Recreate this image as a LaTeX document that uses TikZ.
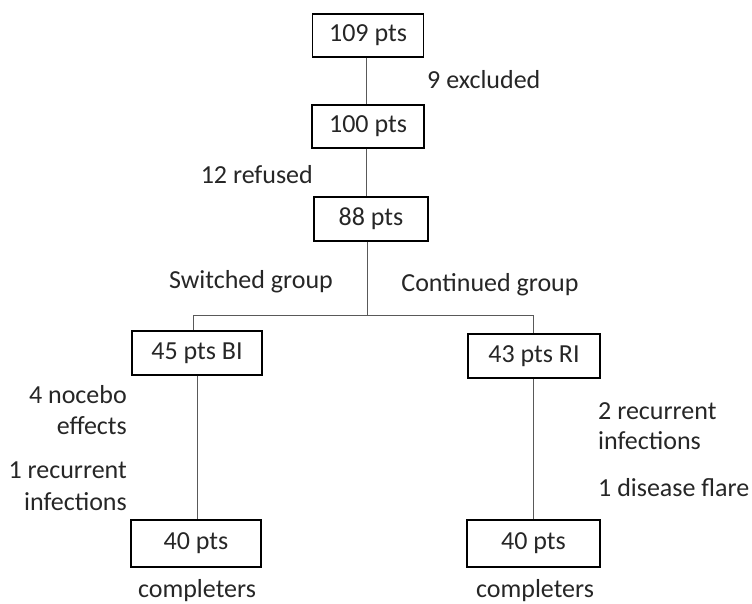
\documentclass[tikz,border=0pt]{standalone}
\usepackage{fontspec}
\setmainfont{Carlito}
\begin{document}
\begin{tikzpicture}[x=1pt,y=-1pt,
  every node/.style={font=\fontsize{26}{30}\selectfont, text=black!85, inner sep=0pt},
  box/.style={draw=black, line width=1.1pt, rectangle},
  conn/.style={draw=black!65, line width=1pt}]
\useasboundingbox (0,0) rectangle (752,603);
% boxes
\node[box, minimum width=111pt, minimum height=43pt] (b109) at (368,35.5) {109 pts};
\node[box, minimum width=112pt, minimum height=43pt] (b100) at (368,126.5) {100 pts};
\node[box, minimum width=114pt, minimum height=44pt] (b88) at (371,219) {88 pts};
\node[box, minimum width=130pt, minimum height=44pt] (bBI) at (197,353) {45 pts BI};
\node[box, minimum width=132pt, minimum height=44pt] (bRI) at (534,356) {43 pts RI};
\node[box, minimum width=130pt, minimum height=47pt] (bL40) at (196,543.5) {40 pts};
\node[box, minimum width=133pt, minimum height=47pt] (bR40) at (533.5,543.5) {40 pts};
% labels
\node[anchor=west] (lexc) at (427,80) {9 excluded};
\node[anchor=east] (lref) at (313,175) {12 refused};
\node (lsw) at (251,282) {Switched group};
\node (lco) at (490,285) {Continued group};
\node[anchor=east] (lnoc1) at (127,395) {4 nocebo};
\node[anchor=east] (lnoc2) at (127,426) {effects};
\node[anchor=east] (lrec1) at (127,470) {1 recurrent};
\node[anchor=east] (lrec2) at (127,502) {infections};
\node[anchor=west] (rrec1) at (598,411) {2 recurrent};
\node[anchor=west] (rrec2) at (598,441) {infections};
\node[anchor=west] (rfl) at (598,488) {1 disease flare};
\node (lcomp) at (197,591) {completers};
\node (rcomp) at (535,591) {completers};
% connectors
\coordinate (split) at (367,315);
\coordinate (jl) at (193,315);
\coordinate (jr) at (533,315);
\draw[conn] ([xshift=-2pt]b109.south) -- ([xshift=-2pt]b100.north);
\draw[conn] ([xshift=-2pt]b100.south) -- ([xshift=-2pt]b100.south |- b88.north);
\draw[conn] (split |- b88.south) -- (split);
\draw[conn] (jl) -- (jr);
\draw[conn] (jl) -- (jl |- bBI.north);
\draw[conn] (jr) -- (jr |- bRI.north);
\draw[conn] (bBI.south) -- (bBI.south |- bL40.north);
\draw[conn] ([xshift=-1pt]bRI.south) -- ([xshift=-1pt]bRI.south |- bR40.north);
\end{tikzpicture}
\end{document}
